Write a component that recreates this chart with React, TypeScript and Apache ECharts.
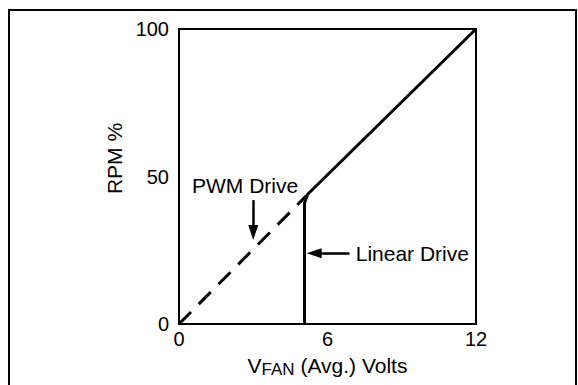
import React, { useEffect, useRef } from "react";
import * as echarts from "echarts";

const xTicks = [0, 6, 12];
const yTicks = [0, 50, 100];

const pwmX = [0, 5.15];
const pwmY = [0, 43.5];

const linearX = [5.07, 5.07, 5.2, 12];
const linearY = [0, 41, 44, 100];

const pwmArrowFrom = [3, 42];
const pwmArrowTo = [3, 31];
const linearArrowFrom = [6.89, 24];
const linearArrowTo = [5.46, 24];

const pwmLabelAt = [2.67, 47.1];
const linearLabelAt = [7.12, 24];

const FONT = "Liberation Sans, Arial, Helvetica, sans-serif";

export default function App() {
  const ref = useRef<HTMLDivElement>(null);
  useEffect(() => {
    if (!ref.current) return;
    const chart = echarts.init(ref.current, undefined, { renderer: "svg" });
    const pwmData = pwmX.map((x, i) => [x, pwmY[i]]);
    const linData = linearX.map((x, i) => [x, linearY[i]]);
    chart.setOption({
      animation: false,
      textStyle: { fontFamily: FONT },
      grid: {
        left: 179,
        right: 102,
        top: 29,
        bottom: 61,
        show: true,
        borderColor: "#000",
        borderWidth: 2,
      },
      graphic: [
        {
          type: "rect",
          shape: { x: 9, y: 10, width: 567, height: 400 },
          style: { fill: "none", stroke: "#000", lineWidth: 2 },
          silent: true,
        },
      ],
      xAxis: {
        type: "value",
        min: xTicks[0],
        max: xTicks[xTicks.length - 1],
        interval: xTicks[1] - xTicks[0],
        axisLine: { show: true, lineStyle: { color: "#000", width: 2 } },
        axisTick: { show: false },
        splitLine: { show: false },
        axisLabel: { color: "#000", fontSize: 20, margin: 5, fontFamily: FONT },
        name: "{a|V}{s|FAN}{a| (Avg.) Volts}",
        nameLocation: "middle",
        nameGap: 28,
        nameTextStyle: {
          color: "#000",
          fontFamily: FONT,
          rich: {
            a: { fontSize: 21, color: "#000", fontFamily: FONT },
            s: { fontSize: 17, color: "#000", fontFamily: FONT, padding: [9, 0, 0, 0] },
          },
        },
      },
      yAxis: {
        type: "value",
        min: yTicks[0],
        max: yTicks[yTicks.length - 1],
        interval: yTicks[1] - yTicks[0],
        axisLine: { show: true, lineStyle: { color: "#000", width: 2 } },
        axisTick: { show: false },
        splitLine: { show: false },
        axisLabel: { color: "#000", fontSize: 20, margin: 10, fontFamily: FONT },
        name: "RPM %",
        nameLocation: "middle",
        nameGap: 52,
        nameTextStyle: { color: "#000", fontSize: 21, fontFamily: FONT, padding: [0, 0, 0, 36] },
      },
      series: [
        {
          type: "line",
          data: pwmData,
          showSymbol: false,
          silent: true,
          lineStyle: { color: "#000", width: 3, type: [17, 11] },
          markLine: {
            silent: true,
            symbol: ["none", "triangle"],
            symbolSize: [10, 15],
            label: { show: false },
            lineStyle: { color: "#000", width: 2.5, type: "solid" },
            itemStyle: { color: "#000" },
            data: [
              [{ coord: pwmArrowFrom }, { coord: pwmArrowTo }],
              [{ coord: linearArrowFrom }, { coord: linearArrowTo }],
            ],
          },
          markPoint: {
            silent: true,
            symbol: "rect",
            symbolSize: 1,
            itemStyle: { color: "rgba(0,0,0,0)" },
            data: [
              {
                coord: pwmLabelAt,
                label: { show: true, position: "inside", formatter: "PWM Drive", color: "#000", fontSize: 21, fontFamily: FONT },
              },
              {
                coord: linearLabelAt,
                label: { show: true, position: "right", distance: 0, formatter: "Linear Drive", color: "#000", fontSize: 21, fontFamily: FONT },
              },
            ],
          },
        },
        {
          type: "line",
          data: linData,
          showSymbol: false,
          silent: true,
          lineStyle: { color: "#000", width: 3 },
        },
      ],
    });
    return () => chart.dispose();
  }, []);
  return (
    <div
      ref={ref}
      style={{ position: "fixed", left: 0, top: 0, width: 578, height: 385, background: "#fff" }}
    />
  );
}
